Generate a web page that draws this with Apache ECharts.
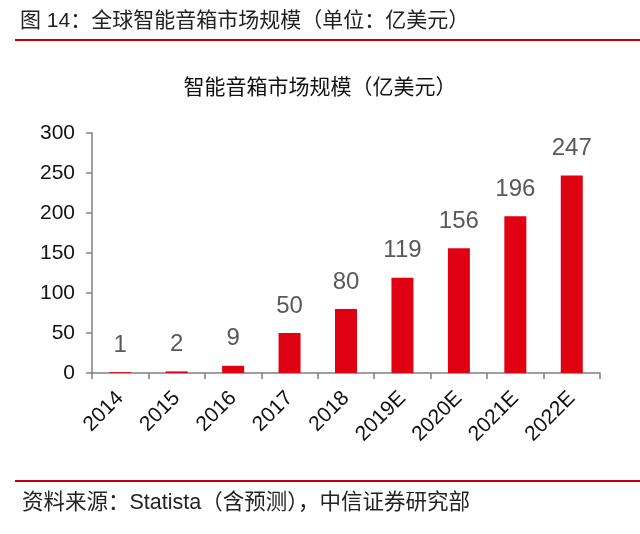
<!DOCTYPE html>
<html>
<head>
	<meta charset="UTF-8">
	<title>智能音箱市场规模</title>
	<style>
		* { margin: 0; padding: 0; }
		body { background: #fff; }
		#charts { width: 640px; height: 534px; }
	</style>
</head>
<body>
	<div id="charts"></div>
	<script src="https://cdn.jsdelivr.net/npm/echarts@6/dist/echarts.min.js"></script>
	<script>
		// 数据
		var years = ['2014', '2015', '2016', '2017', '2018', '2019E', '2020E', '2021E', '2022E'];
		var marketSize = [1, 2, 9, 50, 80, 119, 156, 196, 247];
		var yTicks = [0, 50, 100, 150, 200, 250, 300];

		var fontMain = '"Liberation Sans", "Noto Sans CJK SC", sans-serif';
		var lineRed = '#c0000c';

		var mycharts = echarts.init(document.getElementById('charts'));
		var option = {
			animation: false,
			backgroundColor: '#fff',
			title: {
				text: '智能音箱市场规模（亿美元）',
				left: 'center',
				top: 73,
				textStyle: { fontFamily: fontMain, fontSize: 21, fontWeight: 'normal', color: '#111' }
			},
			// 页眉、页脚
			graphic: [
				{ type: 'text', left: 20, top: 11, style: { text: '图 14：全球智能音箱市场规模（单位：亿美元）', font: '21px "Liberation Sans", "Noto Sans CJK SC"', fill: '#222' } },
				{ type: 'line', shape: { x1: 15, y1: 40, x2: 640, y2: 40 }, style: { stroke: lineRed, lineWidth: 2 } },
				{ type: 'line', shape: { x1: 15, y1: 481, x2: 640, y2: 481 }, style: { stroke: lineRed, lineWidth: 2 } },
				{ type: 'text', left: 22, top: 492, style: { text: '资料来源：Statista（含预测），中信证券研究部', font: '21.5px "Liberation Sans", "Noto Sans CJK SC"', fill: '#222' } }
			],
			grid: { left: 92, right: 40, top: 133, bottom: 161 },
			xAxis: {
				type: 'category',
				data: years,
				axisLine: { lineStyle: { color: '#808080', width: 1.5 } },
				axisTick: { show: true, length: 6, lineStyle: { color: '#808080', width: 1.5 } },
				axisLabel: { rotate: 45, fontFamily: fontMain, fontSize: 21, color: '#111', margin: 22 }
			},
			yAxis: {
				type: 'value',
				min: yTicks[0],
				max: yTicks[yTicks.length - 1],
				interval: 50,
				axisLine: { show: true, lineStyle: { color: '#808080', width: 1.5 } },
				axisTick: { show: true, length: 6, lineStyle: { color: '#808080', width: 1.5 } },
				splitLine: { show: false },
				axisLabel: { fontFamily: fontMain, fontSize: 21, color: '#111', margin: 17 }
			},
			series: [
				{
					name: '市场规模',
					type: 'bar',
					data: marketSize,
					barWidth: 22,
					itemStyle: { color: '#df0012' },
					label: {
						show: true,
						position: 'top',
						distance: 15,
						fontFamily: fontMain,
						fontSize: 24,
						color: '#595959'
					}
				}
			]
		};
		mycharts.setOption(option);
	</script>
</body>
</html>
